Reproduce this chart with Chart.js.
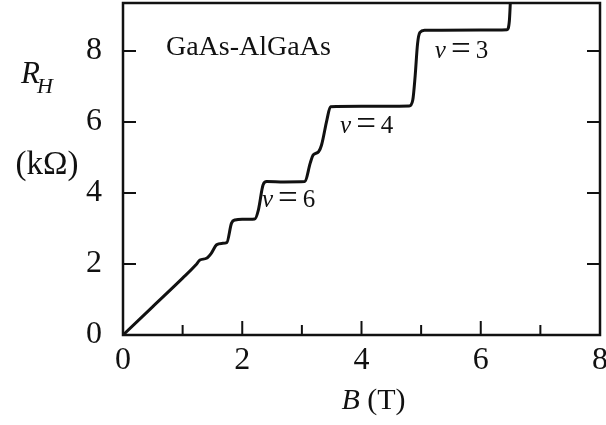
<!DOCTYPE html>
<html>
<head>
<meta charset="utf-8">
<script src="https://cdn.jsdelivr.net/npm/chart.js@4.4.1/dist/chart.umd.min.js"></script>
<style>
  html, body { margin: 0; background: #fff; }
  #wrap { width: 606px; height: 425px; }
</style>
</head>
<body>
<div id="wrap"><canvas id="chart"></canvas></div>
<script>
// Hall resistance of a GaAs-AlGaAs heterostructure vs magnetic field
const fieldT = [0, 0.5, 1.0, 1.22, 1.29, 1.40, 1.48, 1.57, 1.66, 1.74, 1.82, 1.88, 2.00, 2.21, 2.27, 2.35, 2.41, 2.70,
    3.05, 3.14, 3.19, 3.28, 3.33, 3.42, 3.48, 4.00, 4.80, 4.86, 4.90, 4.94, 4.98, 5.06, 6.00, 6.44, 6.48, 6.50];
const hallKOhm = [0, 0.80, 1.60, 1.97, 2.11, 2.16, 2.30, 2.54, 2.58, 2.60, 3.15, 3.24, 3.26, 3.27, 3.52, 4.23, 4.32, 4.31,
    4.32, 4.84, 5.07, 5.16, 5.35, 6.06, 6.43, 6.44, 6.45, 6.62, 7.30, 8.20, 8.52, 8.58, 8.59, 8.60, 8.85, 9.50];

const xTicks = [0, 1, 2, 3, 4, 5, 6, 7, 8];
const xLabels = ["0", "", "2", "", "4", "", "6", "", "8"];
const yTicks = [0, 2, 4, 6, 8];

// filling factor labels next to the plateaus (B, R_H)
const plateauNu = ["6", "4", "3"];
const plateauB = [2.33, 3.64, 5.23];
const plateauR = [3.6, 5.69, 7.8];

const ink = "#111";
const serif = "'Liberation Serif', 'DejaVu Serif', serif";

// "ν = n" with math-style spacing around a wide equals sign
function drawNu(ctx, x, y, n) {
    let cx = x;
    ctx.font = "italic 25px " + serif;
    ctx.fillText("\u03bd", cx, y);
    cx += ctx.measureText("\u03bd").width + 5;
    ctx.font = "35px " + serif;
    ctx.fillText("=", cx, y + 2);
    cx += ctx.measureText("=").width + 5;
    ctx.font = "25px " + serif;
    ctx.fillText(n, cx, y);
}

function noPadding(s) {
    s.paddingTop = 0;
    s.paddingBottom = 0;
    s.paddingLeft = 0;
    s.paddingRight = 0;
}

const decorations = {
    id: "decorations",
    afterDraw(chart) {
        const { ctx, chartArea: a, scales } = chart;
        const x = scales.x, y = scales.y;
        ctx.save();
        ctx.strokeStyle = ink;
        ctx.fillStyle = ink;

        // inward ticks
        ctx.lineWidth = 2;
        ctx.beginPath();
        xTicks.forEach((v) => {
            if (v <= 0 || v >= 8) return;
            const px = x.getPixelForValue(v);
            const len = v % 2 ? 10 : 14;
            ctx.moveTo(px, a.bottom);
            ctx.lineTo(px, a.bottom - len);
        });
        yTicks.forEach((v) => {
            if (v <= 0) return;
            const py = y.getPixelForValue(v);
            ctx.moveTo(a.left, py);
            ctx.lineTo(a.left + 13, py);
            ctx.moveTo(a.right, py);
            ctx.lineTo(a.right - 13, py);
        });
        ctx.stroke();

        // frame
        ctx.lineWidth = 2.5;
        ctx.strokeRect(a.left, a.top, a.right - a.left, a.bottom - a.top);

        // sample name and plateau labels
        ctx.textBaseline = "alphabetic";
        ctx.textAlign = "left";
        ctx.font = "28px " + serif;
        ctx.fillText("GaAs-AlGaAs", x.getPixelForValue(0.72), y.getPixelForValue(7.89));
        plateauNu.forEach((n, i) => {
            drawNu(ctx, x.getPixelForValue(plateauB[i]), y.getPixelForValue(plateauR[i]), n);
        });

        // axis titles
        ctx.font = "italic 31px " + serif;
        ctx.fillText("R", 21, 83);
        const rw = ctx.measureText("R").width;
        ctx.font = "italic 22px " + serif;
        ctx.fillText("H", 21 + rw - 3, 93);
        ctx.font = "33px " + serif;
        ctx.textAlign = "center";
        ctx.fillText("(k\u03a9)", 47, 174);

        ctx.textAlign = "left";
        ctx.font = "italic 30px " + serif;
        const bw = ctx.measureText("B").width;
        ctx.font = "30px " + serif;
        const tw = ctx.measureText(" (T)").width;
        const cx = (a.left + a.right) / 2 + 12;
        const left = cx - (bw + tw) / 2;
        ctx.font = "italic 30px " + serif;
        ctx.fillText("B", left, 409);
        ctx.font = "30px " + serif;
        ctx.fillText(" (T)", left + bw, 409);
        ctx.restore();
    }
};

new Chart(document.getElementById("chart"), {
    type: "scatter",
    data: {
        datasets: [{
            data: fieldT.map((b, i) => ({ x: b, y: hallKOhm[i] })),
            showLine: true,
            borderColor: ink,
            borderWidth: 3,
            pointRadius: 0,
            cubicInterpolationMode: "monotone",
        }],
    },
    options: {
        responsive: true,
        maintainAspectRatio: false,
        animation: false,
        layout: { autoPadding: false, padding: { left: 0, right: 6, top: 3, bottom: 0 } },
        plugins: { legend: { display: false }, tooltip: { enabled: false } },
        scales: {
            x: {
                type: "linear",
                min: 0,
                max: 8,
                afterFit: (s) => { s.height = 90; noPadding(s); },
                afterBuildTicks: (s) => { s.ticks = xTicks.map((v) => ({ value: v })); },
                grid: { display: false, drawTicks: false },
                border: { display: false },
                ticks: {
                    padding: 6,
                    color: ink,
                    font: { family: serif, size: 32 },
                    maxRotation: 0,
                    autoSkip: false,
                    callback: (v) => xLabels[xTicks.indexOf(v)] ?? "",
                },
            },
            y: {
                min: 0,
                max: 9.35,
                afterFit: (s) => { s.width = 123; noPadding(s); },
                afterBuildTicks: (s) => { s.ticks = yTicks.map((v) => ({ value: v })); },
                grid: { display: false, drawTicks: false },
                border: { display: false },
                ticks: {
                    padding: 21,
                    color: ink,
                    font: { family: serif, size: 32 },
                    callback: (v) => String(v),
                },
            },
        },
    },
    plugins: [decorations],
});
</script>
</body>
</html>
